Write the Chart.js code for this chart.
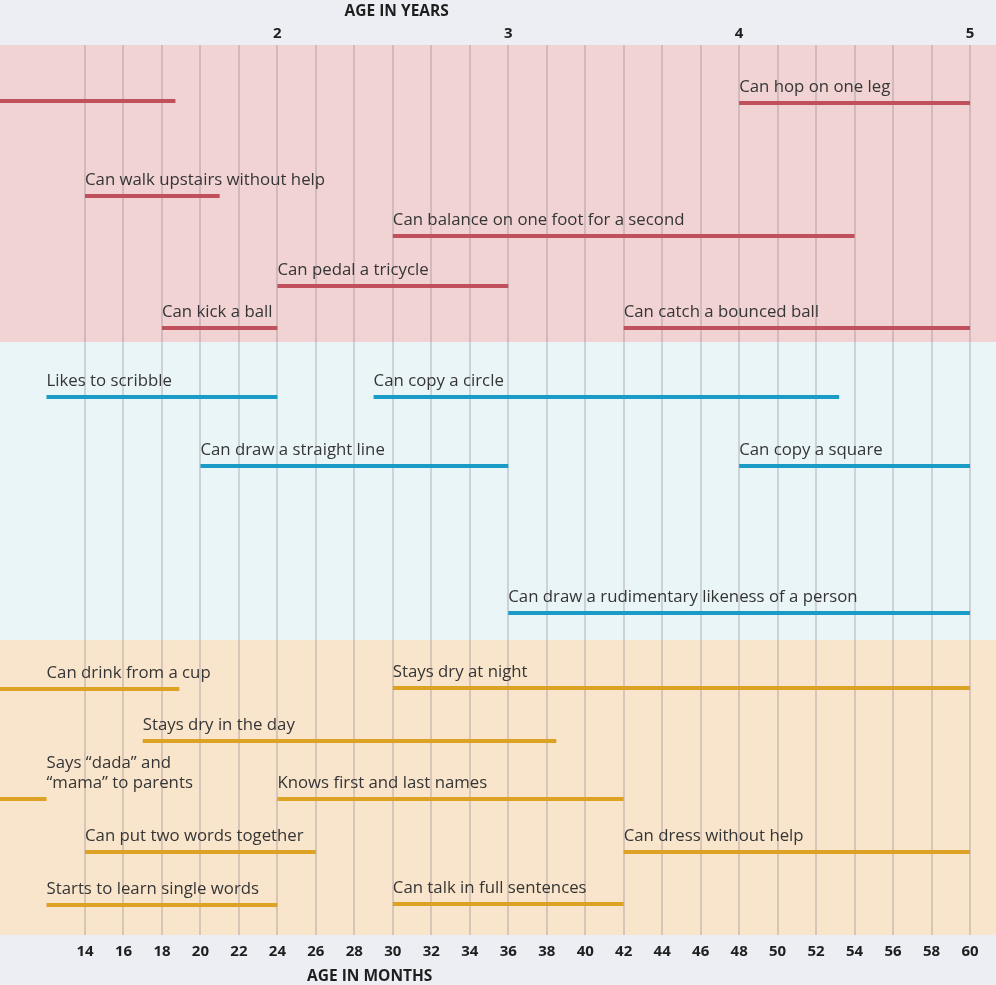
<!DOCTYPE html>
<html>
<head>
<meta charset="utf-8">
<script src="https://cdn.jsdelivr.net/npm/chart.js@4"></script>
<style>
  html, body { margin: 0; padding: 0; background: #eceef3; }
  #wrap { width: 996px; height: 985px; position: relative; }
</style>
</head>
<body>
<div id="wrap"><canvas id="chart"></canvas></div>
<script>
// Milestones: label, start month, end month, row (vertical slot), group
const labels = [
  '', 'Can hop on one leg', 'Can walk upstairs without help', 'Can balance on one foot for a second',
  'Can pedal a tricycle', 'Can kick a ball', 'Can catch a bounced ball',
  'Likes to scribble', 'Can copy a circle', 'Can draw a straight line', 'Can copy a square',
  'Can draw a rudimentary likeness of a person',
  'Can drink from a cup', 'Stays dry at night', 'Stays dry in the day',
  ['Says \u201cdada\u201d and', '\u201cmama\u201d to parents'], 'Knows first and last names',
  'Can put two words together', 'Can dress without help',
  'Starts to learn single words', 'Can talk in full sentences'
];
const startMonths = [6, 48, 14, 30, 24, 18, 42, 12, 29, 20, 48, 36, 6, 30, 17, 6, 24, 14, 42, 12, 30];
const endMonths   = [18.7, 60, 21, 54, 36, 24, 60, 24, 53.2, 36, 60, 60, 18.9, 60, 38.5, 12, 42, 26, 60, 24, 42];
const rows        = [5.6, 5.8, 15.1, 19.1, 24.1, 28.3, 28.3, 35.2, 35.2, 42.1, 42.1, 56.8,
                     64.4, 64.3, 69.6, 75.4, 75.4, 80.7, 80.7, 86.0, 85.9];
const groups      = ['motor', 'motor', 'motor', 'motor', 'motor', 'motor', 'motor',
                     'draw', 'draw', 'draw', 'draw', 'draw',
                     'care', 'care', 'care', 'care', 'care', 'care', 'care', 'care', 'care'];

const monthTicks = [14, 16, 18, 20, 22, 24, 26, 28, 30, 32, 34, 36, 38, 40, 42, 44, 46, 48, 50, 52, 54, 56, 58, 60];
const yearTicks = [24, 36, 48, 60];

// band limits in row units
const bandNames = ['motor', 'draw', 'care'];
const bandFrom = [0, 29.7, 59.5];
const bandTo = [29.7, 59.5, 89];

const bandColors = { motor: '#f0d3d2', draw: '#eaf5f8', care: '#f9e5cb' };
const lineColors = { motor: '#c0515c', draw: '#1b9cc6', care: '#dca223' };

const textFont = '"Open Sans", "Lato", sans-serif';

const datasets = labels.map((lab, i) => ({
  label: Array.isArray(lab) ? lab.join(' ') : lab,
  data: [{ x: startMonths[i], y: rows[i] }, { x: endMonths[i], y: rows[i] }],
  showLine: true,
  borderColor: lineColors[groups[i]],
  borderWidth: 4,
  borderCapStyle: 'butt',
  pointRadius: 0,
  pointHoverRadius: 0
}));

const bandsPlugin = {
  id: 'bands',
  beforeDraw(chart) {
    const { ctx, scales: { y } } = chart;
    ctx.save();
    ctx.fillStyle = '#eceef3';
    ctx.fillRect(0, 0, chart.width, chart.height);
    bandNames.forEach((b, i) => {
      const top = y.getPixelForValue(bandFrom[i]);
      const bottom = y.getPixelForValue(bandTo[i]);
      ctx.fillStyle = bandColors[b];
      ctx.fillRect(0, top, chart.width, bottom - top);
    });
    ctx.restore();
  }
};

const textPlugin = {
  id: 'texts',
  afterDatasetsDraw(chart) {
    const { ctx, scales: { x, y } } = chart;
    ctx.save();
    ctx.fillStyle = '#353535';
    ctx.font = '16.8px ' + textFont;
    ctx.textBaseline = 'alphabetic';
    labels.forEach((lab, i) => {
      if (!lab) return;
      const px = x.getPixelForValue(Math.max(startMonths[i], 12));
      const py = y.getPixelForValue(rows[i]) - 11;
      const lines = Array.isArray(lab) ? lab : [lab];
      lines.forEach((t, k) => {
        ctx.fillText(t, px, py - (lines.length - 1 - k) * 20);
      });
    });
    // axis titles
    ctx.fillStyle = '#1e1e1e';
    ctx.font = 'bold 15.5px ' + textFont;
    ctx.textAlign = 'center';
    ctx.textBaseline = 'middle';
    ctx.fillText('AGE IN YEARS', x.getPixelForValue(30.2), 12);
    ctx.fillText('AGE IN MONTHS', x.getPixelForValue(28.8), 977);
    ctx.restore();
  }
};

new Chart(document.getElementById('chart'), {
  type: 'scatter',
  data: { datasets },
  options: {
    responsive: true,
    maintainAspectRatio: false,
    animation: false,
    layout: { padding: 0 },
    plugins: { legend: { display: false }, tooltip: { enabled: false } },
    scales: {
      x: {
        type: 'linear',
        position: 'bottom',
        min: 9.582,
        max: 61.351,
        afterBuildTicks: (s) => { s.ticks = monthTicks.map(v => ({ value: v })); },
        afterFit: (s) => { s.height = 50; },
        border: { display: false },
        grid: { color: 'rgba(130,120,135,0.28)', lineWidth: 2, drawTicks: false },
        ticks: {
          autoSkip: false, maxRotation: 0, padding: 8, color: '#1e1e1e',
          font: { family: textFont, size: 15, weight: 'bold' }
        }
      },
      x2: {
        type: 'linear',
        position: 'top',
        min: 9.582,
        max: 61.351,
        afterBuildTicks: (s) => { s.ticks = yearTicks.map(v => ({ value: v })); },
        afterFit: (s) => { s.height = 45; },
        border: { display: false },
        grid: { display: false, drawTicks: false },
        ticks: {
          autoSkip: false, maxRotation: 0, padding: 2, color: '#1e1e1e',
          callback: (v) => v / 12,
          font: { family: textFont, size: 15, weight: 'bold' }
        }
      },
      y: {
        type: 'linear',
        display: false,
        reverse: true,
        min: 0,
        max: 89
      }
    }
  },
  plugins: [bandsPlugin, textPlugin]
});
</script>
</body>
</html>
